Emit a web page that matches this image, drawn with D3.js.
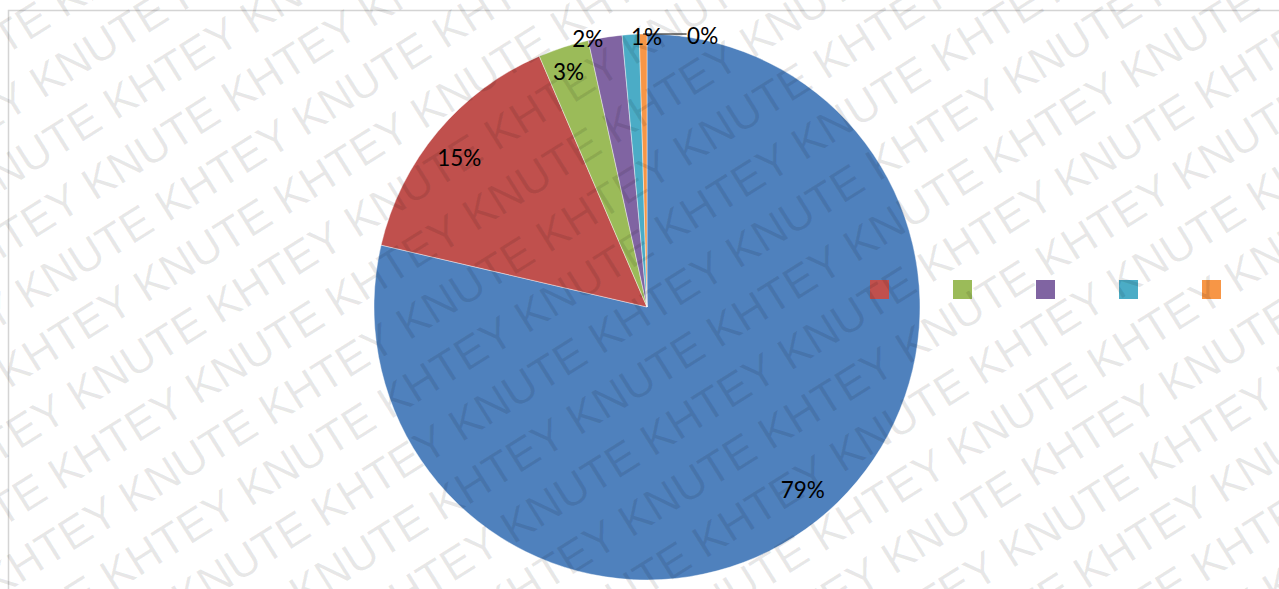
<!DOCTYPE html>
<html>
<head>
<meta charset="utf-8">
<script src="https://cdn.jsdelivr.net/npm/d3@7"></script>
<style>
  html, body { margin: 0; padding: 0; background: #fff; }
  svg { display: block; }
</style>
</head>
<body>
<svg id="chart" width="1279" height="589"></svg>
<script>
// Share of each category (percent)
const categories = ["A", "B", "C", "D", "E", "F"];
const values = [78.6, 14.9, 3.0, 2.0, 1.0, 0.45];
const colors = ["#4F81BD", "#C0504D", "#9BBB59", "#8064A2", "#4BACC6", "#F79646"];

// Label placement: radius and angular nudge (degrees) for each slice label
const labelRadius = [240, 240, 248, 275, 270, 277];
const labelNudge = [-2, -1.4, -0.6, -3.6, 3.3, 12.4];

const W = 1279, H = 589;
const cx = 647, cy = 307, R = 273;

const svg = d3.select("#chart");

// Chart frame
svg.append("path")
  .attr("d", `M8.5,${H} L8.5,10.5 L${W},10.5`)
  .attr("fill", "none")
  .attr("stroke", "#d4d4d4")
  .attr("stroke-width", 1.5);

// Pie
const pie = d3.pie().sort(null).value(d => d)(values);
const total = d3.sum(values);
const arc = d3.arc().innerRadius(0).outerRadius(R);
const g = svg.append("g").attr("transform", `translate(${cx},${cy})`);

g.selectAll("path.slice")
  .data(pie)
  .join("path")
  .attr("class", "slice")
  .attr("d", arc)
  .attr("fill", (d, i) => colors[i])
  .attr("stroke", "rgba(255,255,255,0.7)")
  .attr("stroke-width", 0.6);

const fmt = v => Math.round(v / total * 100) + "%";
const labelPos = (d, i) => {
  const a = (d.startAngle + d.endAngle) / 2 + labelNudge[i] * Math.PI / 180;
  return [labelRadius[i] * Math.sin(a), -labelRadius[i] * Math.cos(a)];
};

// Leader line for the smallest slice
const last = pie[pie.length - 1];
const lastMid = (last.startAngle + last.endAngle) / 2;
const lp = labelPos(last, pie.length - 1);
g.append("path")
  .attr("d", `M${R * Math.sin(lastMid)},${-R * Math.cos(lastMid)} L${lp[0] - 16},${-R * Math.cos(lastMid)}`)
  .attr("fill", "none")
  .attr("stroke", "#000")
  .attr("stroke-width", 1);

g.selectAll("text.lbl")
  .data(pie)
  .join("text")
  .attr("class", "lbl")
  .attr("x", (d, i) => labelPos(d, i)[0])
  .attr("y", (d, i) => labelPos(d, i)[1])
  .attr("dy", "0.36em")
  .attr("text-anchor", "middle")
  .attr("font-family", "Lato, 'Open Sans', sans-serif")
  .attr("font-size", 22.5)
  .attr("fill", "#000")
  .text(d => fmt(d.value));

// Legend (swatches only), drawn over the plot area
const legend = svg.append("g").attr("class", "legend");
const legendX = d3.scalePoint().domain(categories).range([787, 1202]);
legend.selectAll("rect")
  .data(categories)
  .join("rect")
  .attr("x", d => legendX(d))
  .attr("y", 280)
  .attr("width", 19)
  .attr("height", 19)
  .attr("fill", (d, i) => colors[i]);

// Watermark: repeated diagonal text rows, alternating offset
const wmAngle = 32, rowGap = 57, period = 327.5;
const rowBase = 163.8, startBase = 35.6, oddOffset = 104, pairShift = -10;
const wm = svg.append("g")
  .attr("transform", `rotate(${-wmAngle})`)
  .attr("font-family", "'Liberation Sans', Arial, sans-serif")
  .attr("font-size", 45)
  .attr("fill", "#000")
  .attr("fill-opacity", 0.09)
  .style("pointer-events", "none");
const phrase = "KHTEY KNUTE ";
for (let n = -6; n <= 20; n++) {
  const ty = rowBase + rowGap * n;
  const k = Math.floor(n / 2);
  let start = startBase + pairShift * k + (n % 2 !== 0 ? oddOffset : 0);
  start = ((start % period) + period) % period - period * 2;
  wm.append("text")
    .attr("x", start)
    .attr("y", ty)
    .style("white-space", "pre")
    .text(phrase.repeat(6));
}
</script>
</body>
</html>
